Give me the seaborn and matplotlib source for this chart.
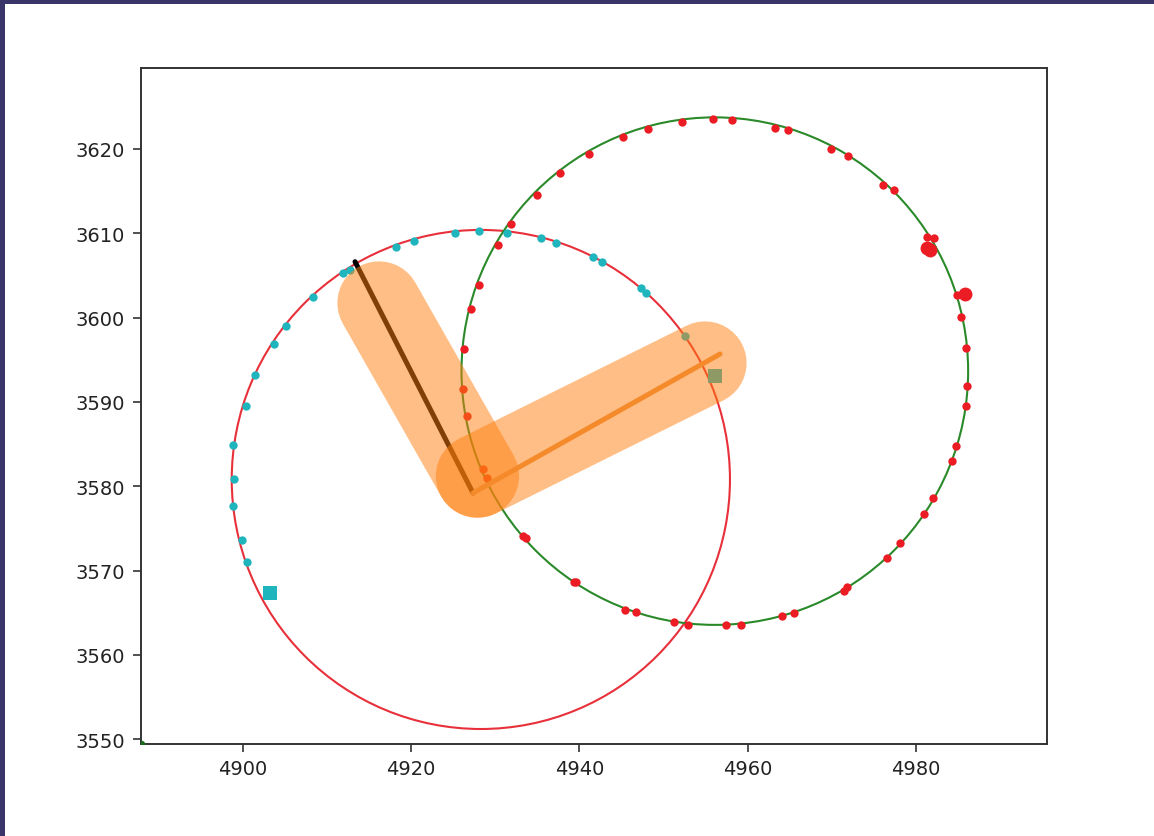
import matplotlib
matplotlib.use("Agg")
import matplotlib.pyplot as plt
import seaborn as sns
from matplotlib.patches import Circle, Rectangle

# ---------------- data ----------------
red_circle_center = (4928.3, 3580.8)
red_circle_radius = 29.6
green_circle_center = (4956.1, 3593.65)
green_circle_radius = 30.1

# cyan points lying on the red circle
cyan_x = [4908.39, 4905.15, 4903.72, 4901.46, 4900.36, 4898.89, 4898.97, 4898.89,
          4899.96, 4900.51, 4911.96, 4912.75, 4918.18, 4920.39, 4925.23, 4928.08,
          4931.44, 4935.45, 4937.19, 4941.66, 4942.66, 4947.29, 4947.89, 4952.56]
cyan_y = [3602.41, 3599.04, 3596.87, 3593.22, 3589.55, 3584.88, 3580.85, 3577.61,
          3573.65, 3571.04, 3605.25, 3605.64, 3608.34, 3609.05, 3610.00, 3610.23,
          3610.00, 3609.40, 3608.81, 3607.15, 3606.56, 3603.47, 3602.92, 3597.85]

# red points lying on the green circle
red_x = [4933.34, 4933.63, 4928.52, 4929.07, 4926.22, 4926.69, 4926.33, 4927.13,
         4928.08, 4930.37, 4931.88, 4934.98, 4937.74, 4941.10, 4945.22, 4948.21,
         4952.20, 4955.90, 4958.15, 4963.22, 4964.74, 4969.91, 4971.96, 4976.07,
         4977.39, 4981.29, 4982.11, 4984.84, 4985.32, 4985.95, 4986.03, 4985.95,
         4984.72, 4984.25, 4982.06, 4980.99, 4978.10, 4976.52, 4971.77, 4971.45,
         4965.55, 4964.12, 4959.18, 4957.39, 4952.95, 4951.25, 4946.70, 4945.43,
         4939.61, 4939.31]
red_y = [3574.13, 3573.82, 3582.04, 3580.97, 3591.53, 3588.36, 3596.27, 3601.02,
         3603.90, 3608.61, 3611.16, 3614.52, 3617.14, 3619.36, 3621.37, 3622.33,
         3623.19, 3623.51, 3623.47, 3622.50, 3622.30, 3619.96, 3619.15, 3615.73,
         3615.12, 3609.59, 3609.48, 3602.68, 3600.03, 3596.36, 3591.92, 3589.55,
         3584.80, 3582.95, 3578.63, 3576.66, 3573.22, 3571.44, 3568.00, 3567.60,
         3564.92, 3564.64, 3563.53, 3563.53, 3563.53, 3563.85, 3565.04, 3565.35,
         3568.60, 3568.67]

# larger red points
red_big_x = [4981.30, 4981.70, 4985.83]
red_big_y = [3608.25, 3608.00, 3602.80]

# cyan square markers
square_x = [4903.25, 4956.12]
square_y = [3567.29, 3593.11]

# green point at the lower-left corner
corner_x = [4887.86]
corner_y = [3549.42]

# segments
black_seg_x = [4913.35, 4927.37]
black_seg_y = [3606.63, 3579.19]
orange_seg_x = [4927.37, 4956.72]
orange_seg_y = [3579.19, 3595.68]

# wide translucent bands
band1_x = [4916.20, 4927.90]
band1_y = [3601.73, 3581.20]
band2_x = [4927.90, 4954.93]
band2_y = [3581.20, 3594.61]

xlim = (4887.86, 4995.57)
ylim = (3549.42, 3629.57)
x_ticks = [4900, 4920, 4940, 4960, 4980]
y_ticks = [3550, 3560, 3570, 3580, 3590, 3600, 3610, 3620]

# ---------------- styling ----------------
sns.set_style("white")
plt.rcParams["font.family"] = ["DejaVu Sans"]

W, H = 1154, 837
fig = plt.figure(figsize=(W / 100, H / 100), dpi=100)
fig.patch.set_facecolor("white")

# frame border (top and left edge of the picture)
border_col = "#3a3568"
fig.patches.append(Rectangle((0, 1 - 5 / H), 1, 5 / H, transform=fig.transFigure,
                             facecolor=border_col, edgecolor="none", zorder=10))
fig.patches.append(Rectangle((0, 0), 5 / W, 1, transform=fig.transFigure,
                             facecolor=border_col, edgecolor="none", zorder=10))

ax_left, ax_right, ax_top, ax_bottom = 140.5, 1047.0, 69.3, 745.0
ax = fig.add_axes([ax_left / W, 1 - ax_bottom / H, (ax_right - ax_left) / W,
                   (ax_bottom - ax_top) / H])
ax.set_facecolor("white")

RED_LINE = "#e8303a"
RED_PT = "#ec1c24"
GREEN_LINE = "#2a8a2a"
CYAN = "#1fb5bd"
ORANGE = "#ff7f0e"
ORANGE_LINE = "#f58a2a"

ax.add_patch(Circle(red_circle_center, red_circle_radius, fill=False,
                    edgecolor=RED_LINE, lw=1.5, zorder=1.5))
ax.add_patch(Circle(green_circle_center, green_circle_radius, fill=False,
                    edgecolor=GREEN_LINE, lw=1.5, zorder=1.5))

sns.scatterplot(x=cyan_x, y=cyan_y, color=CYAN, s=36, linewidth=0,
                legend=False, ax=ax, zorder=3)
sns.scatterplot(x=red_x, y=red_y, color=RED_PT, s=36, linewidth=0,
                legend=False, ax=ax, zorder=3)
sns.scatterplot(x=red_big_x, y=red_big_y, color=RED_PT, s=100, linewidth=0,
                legend=False, ax=ax, zorder=3)
sns.scatterplot(x=square_x, y=square_y, color=CYAN, s=105, marker="s",
                linewidth=0, legend=False, ax=ax, zorder=3)
sns.scatterplot(x=corner_x, y=corner_y, color="#1a6b1a", s=30, linewidth=0,
                legend=False, ax=ax, zorder=3)

sns.lineplot(x=black_seg_x, y=black_seg_y, color="black", lw=3.6, sort=False,
             estimator=None, legend=False, ax=ax, zorder=4)

for bx, by in ((band1_x, band1_y), (band2_x, band2_y)):
    sns.lineplot(x=bx, y=by, color=ORANGE, lw=60, alpha=0.5, sort=False,
                 estimator=None, legend=False, ax=ax, zorder=5,
                 solid_capstyle="round")

sns.lineplot(x=orange_seg_x, y=orange_seg_y, color=ORANGE_LINE, lw=3.6,
             sort=False, estimator=None, legend=False, ax=ax, zorder=6)

ax.set_xlim(*xlim)
ax.set_ylim(*ylim)
ax.set_xticks(x_ticks)
ax.set_yticks(y_ticks)
ax.tick_params(axis="both", direction="out", length=6, width=1.1,
               labelsize=14, colors="#222222", pad=5, left=True, bottom=True)
for sp in ax.spines.values():
    sp.set_visible(True)
    sp.set_color("#333333")
    sp.set_linewidth(1.4)
ax.set_xlabel("")
ax.set_ylabel("")

fig.savefig("out.png", dpi=100, facecolor="white")
